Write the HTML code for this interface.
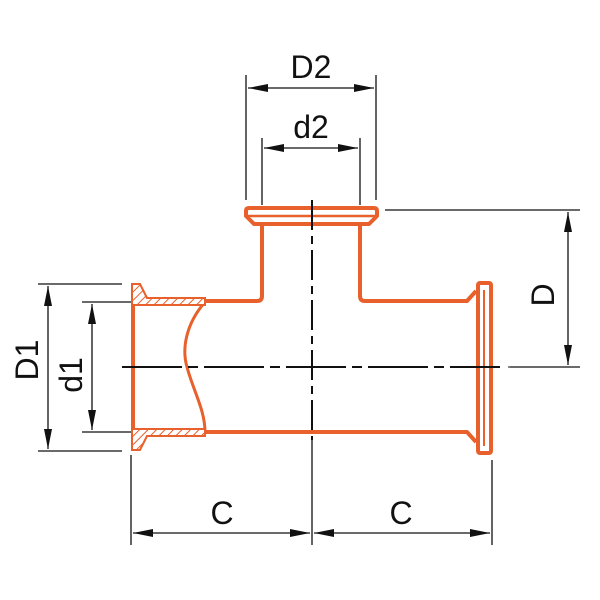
<!DOCTYPE html>
<html><head><style>body{margin:0;background:#fff}svg{display:block}</style></head>
<body>
<svg width="600" height="600" viewBox="0 0 600 600" xmlns="http://www.w3.org/2000/svg">
<defs>
<marker id="a" viewBox="0 0 20 8" refX="20" refY="4" markerWidth="20" markerHeight="8" markerUnits="userSpaceOnUse" orient="auto-start-reverse"><path d="M0,0 L20,4 L0,8 Z" fill="#111"/></marker>
<pattern id="h" width="6" height="6" patternUnits="userSpaceOnUse" patternTransform="rotate(45)"><rect width="6" height="6" fill="#fff"/><line x1="0" y1="0" x2="0" y2="6" stroke="#e8602c" stroke-width="2"/></pattern>
</defs>
<g stroke="#111" stroke-width="1.3" fill="none">
<line x1="246" y1="75" x2="246" y2="200"/><line x1="376" y1="75" x2="376" y2="200"/>
<line x1="248" y1="88" x2="374" y2="88" marker-start="url(#a)" marker-end="url(#a)"/>
<line x1="262" y1="138" x2="262" y2="205"/><line x1="360" y1="138" x2="360" y2="205"/>
<line x1="264" y1="148" x2="358" y2="148" marker-start="url(#a)" marker-end="url(#a)"/>
<line x1="385" y1="210" x2="580" y2="210"/><line x1="510" y1="367" x2="580" y2="367"/>
<line x1="568" y1="212" x2="568" y2="365" marker-start="url(#a)" marker-end="url(#a)"/>
<line x1="38" y1="284" x2="122" y2="284"/><line x1="38" y1="451" x2="122" y2="451"/>
<line x1="48" y1="286" x2="48" y2="449" marker-start="url(#a)" marker-end="url(#a)"/>
<line x1="82" y1="302" x2="132" y2="302"/><line x1="82" y1="432" x2="132" y2="432"/>
<line x1="92" y1="304" x2="92" y2="430" marker-start="url(#a)" marker-end="url(#a)"/>
<line x1="131" y1="455" x2="131" y2="545"/><line x1="312" y1="440" x2="312" y2="545"/><line x1="492" y1="460" x2="492" y2="545"/>
<line x1="133" y1="533" x2="310" y2="533" marker-start="url(#a)" marker-end="url(#a)"/>
<line x1="314" y1="533" x2="490" y2="533" marker-start="url(#a)" marker-end="url(#a)"/>
</g>
<g stroke="#e8602c" stroke-width="4" fill="none" stroke-linejoin="round">
<path d="M249,208 H374 Q377,208 377,211 V216 L369,224 H254 L246,216 V211 Q246,208 249,208 Z"/>
<line x1="248" y1="216" x2="375" y2="216" stroke-width="2.5"/>
<path d="M262,224 V296 Q262,301 257,301 H206"/>
<path d="M360,224 V296 Q360,301 365,301 H467 L476,291"/>
<path d="M206,432 H467 L476,442"/>
<line x1="133" y1="300" x2="133" y2="434"/>
<path d="M205,302 C185,325 182,350 187,367 C193,390 205,410 205,432" stroke-width="3"/>
<rect x="478" y="283" width="13" height="170" rx="2"/>
<line x1="484" y1="290" x2="484" y2="446" stroke-width="2"/>
</g>
<g stroke="#e8602c" stroke-width="2" fill="url(#h)">
<path d="M132,284 H140 L147,298 L205,298 V305 H132 Z"/>
<path d="M132,450 H140 L147,436 L205,436 V429 H132 Z"/>
</g>
<g stroke="#111" stroke-width="2" fill="none">
<line x1="122" y1="367" x2="500" y2="367" stroke-dasharray="60,6,10,6"/>
<line x1="312" y1="200" x2="312" y2="440" stroke-dasharray="30,6,8,6"/>
<line x1="508" y1="367" x2="520" y2="367" stroke-width="1"/>
</g>
<g font-family="Liberation Sans, sans-serif" font-size="32" fill="#111" text-anchor="middle">
<text x="311" y="78">D2</text>
<text x="311" y="138">d2</text>
<text x="222" y="524">C</text>
<text x="401" y="524">C</text>
<text transform="translate(554,295) rotate(-90)">D</text>
<text transform="translate(38,360) rotate(-90)">D1</text>
<text transform="translate(82,375) rotate(-90)">d1</text>
</g>
</svg>
</body></html>
